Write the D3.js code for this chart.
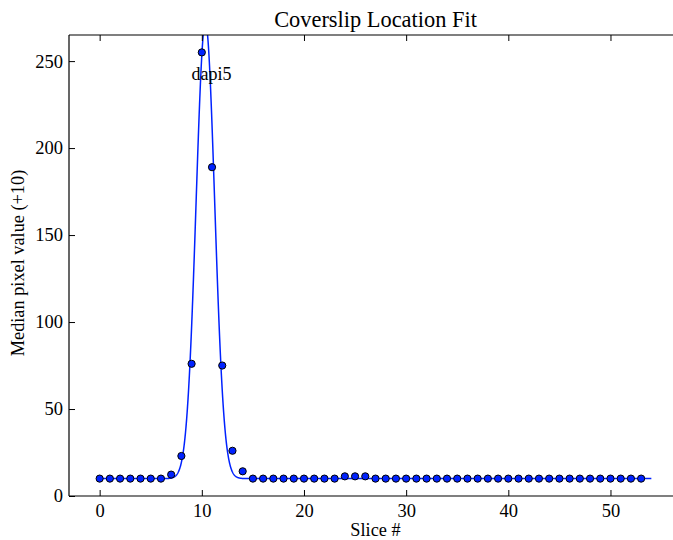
<!DOCTYPE html>
<html>
<head>
<meta charset="utf-8">
<script src="https://cdn.jsdelivr.net/npm/d3@7"></script>
<style>
  body { margin: 0; background: #fff; }
  svg { display: block; font-family: "Liberation Serif", "DejaVu Serif", serif; }
</style>
</head>
<body>
<script>
// slice medians (value + 10)
const slices = d3.range(0, 54);
const medians = [
  10, 10, 10, 10, 10, 10, 10, 12.3, 23, 76,
  255, 189, 75, 26, 14.2, 10, 10, 10, 10, 10,
  10, 10, 10, 10, 11.3, 11.3, 11.3, 10, 10, 10,
  10, 10, 10, 10, 10, 10, 10, 10, 10, 10,
  10, 10, 10, 10, 10, 10, 10, 10, 10, 10,
  10, 10, 10, 10
];

// gaussian fit parameters
const fitCenter = 10.35,
      fitSigma = 0.91,
      fitAmplitude = 262,
      fitOffset = 10,
      fitRange = [0, 54];

const xTicks = [0, 10, 20, 30, 40, 50],
      yTicks = [0, 50, 100, 150, 200, 250];

const peakLabel = {text: "dapi5", x: 9, y: 239};

const WIDTH = 673, HEIGHT = 540,
      margin = {top: 35, right: -9, bottom: 44, left: 69},
      TICK = 6;

const svg = d3.select("body").append("svg")
  .attr("width", WIDTH)
  .attr("height", HEIGHT);

const x = d3.scaleLinear().domain([-3, 57]).range([margin.left, WIDTH - margin.right]),
      y = d3.scaleLinear().domain([0, 265]).range([HEIGHT - margin.bottom, margin.top]);

svg.append("defs").append("clipPath").attr("id", "plot")
  .append("rect")
  .attr("x", x.range()[0]).attr("y", y.range()[1])
  .attr("width", x.range()[1] - x.range()[0])
  .attr("height", y.range()[0] - y.range()[1]);

const plot = svg.append("g").attr("clip-path", "url(#plot)");

const gauss = t => fitOffset + fitAmplitude * Math.exp(-Math.pow(t - fitCenter, 2) / (2 * fitSigma * fitSigma));
const fitX = d3.range(fitRange[0], fitRange[1] + 0.0001, 0.02);

plot.append("path")
  .datum(fitX)
  .attr("fill", "none")
  .attr("stroke", "#0022ff")
  .attr("stroke-width", 1.5)
  .attr("d", d3.line().x(d => x(d)).y(d => y(gauss(d))));

plot.selectAll("circle.pt")
  .data(slices)
  .join("circle")
  .attr("class", "pt")
  .attr("cx", d => x(d))
  .attr("cy", (d, i) => y(medians[i]))
  .attr("r", 3.6)
  .attr("fill", "#0022ff")
  .attr("stroke", "#000")
  .attr("stroke-width", 1);

svg.append("text")
  .attr("x", x(peakLabel.x))
  .attr("y", y(peakLabel.y))
  .attr("font-size", 18)
  .attr("fill", "#000")
  .text(peakLabel.text);

// axes, matplotlib classic style: ticks point inward on all sides
const axBottom = svg.append("g")
  .attr("transform", "translate(0," + y.range()[0] + ")")
  .call(d3.axisBottom(x).tickValues(xTicks).tickSize(-TICK).tickPadding(8).tickFormat(d3.format("d")));
const axTop = svg.append("g")
  .attr("transform", "translate(0," + y.range()[1] + ")")
  .call(d3.axisTop(x).tickValues(xTicks).tickSize(-TICK).tickFormat(""));
const axLeft = svg.append("g")
  .attr("transform", "translate(" + x.range()[0] + ",0)")
  .call(d3.axisLeft(y).tickValues(yTicks).tickSize(-TICK).tickPadding(6).tickFormat(d3.format("d")));

[axBottom, axTop, axLeft].forEach(g => {
  g.select(".domain").attr("stroke", "#000").attr("stroke-width", 1.2);
  g.selectAll(".tick line").attr("stroke", "#000").attr("stroke-width", 1);
  g.selectAll(".tick text")
    .attr("font-family", "Liberation Serif, serif")
    .attr("font-size", 18.5)
    .attr("fill", "#000");
});
axBottom.select(".domain").attr("d", "M" + x.range()[0] + ",0H" + x.range()[1]);
axTop.select(".domain").attr("d", "M" + x.range()[0] + ",0H" + x.range()[1]);
axLeft.select(".domain").attr("d", "M0," + y.range()[0] + "V" + y.range()[1]);

svg.append("text")
  .attr("x", (x.range()[0] + x.range()[1]) / 2)
  .attr("y", 27)
  .attr("text-anchor", "middle")
  .attr("font-size", 22.4)
  .text("Coverslip Location Fit");

svg.append("text")
  .attr("x", (x.range()[0] + x.range()[1]) / 2)
  .attr("y", 536)
  .attr("text-anchor", "middle")
  .attr("font-size", 18.3)
  .text("Slice #");

svg.append("text")
  .attr("transform", "translate(24," + 263 + ") rotate(-90)")
  .attr("text-anchor", "middle")
  .attr("font-size", 18.3)
  .text("Median pixel value (+10)");
</script>
</body>
</html>
